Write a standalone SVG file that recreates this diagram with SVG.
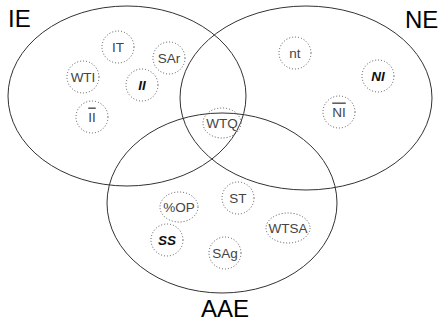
<svg xmlns="http://www.w3.org/2000/svg" width="441" height="324" viewBox="0 0 441 324">
<style>
.big{fill:none;stroke:#333;stroke-width:1}
.dot{fill:none;stroke:#555;stroke-width:1;stroke-dasharray:1 2}
.lbl{font-family:"Liberation Sans",Arial,sans-serif;font-size:24px;fill:#000}
.t{font-family:"Liberation Sans",Arial,sans-serif;font-size:13.5px;fill:#444;text-anchor:middle;dominant-baseline:central}
.b{font-weight:bold;font-style:italic;fill:#111}
.ov{text-decoration:overline}
</style>
<rect width="441" height="324" fill="#fff"/>
<g id="sets">
<g id="IE"><ellipse class="big" cx="127" cy="96" rx="119" ry="90"/><text class="lbl" x="8" y="27">IE</text></g>
<g id="NE"><ellipse class="big" cx="306" cy="98" rx="126" ry="92"/><text class="lbl" x="405" y="28">NE</text></g>
<g id="AAE"><ellipse class="big" cx="222" cy="203" rx="115" ry="90"/><text class="lbl" x="225" y="317" text-anchor="middle">AAE</text></g>
</g>
<g id="connectors"></g>
<g id="n-IT"><circle class="dot" cx="118" cy="47" r="16"/><text class="t" x="118" y="47">IT</text></g>
<g id="n-SAr"><circle class="dot" cx="169" cy="58" r="16"/><text class="t" x="169" y="58">SAr</text></g>
<g id="n-WTI"><circle class="dot" cx="83" cy="77" r="16"/><text class="t" x="83" y="77">WTI</text></g>
<g id="n-II"><circle class="dot" cx="142" cy="85" r="16"/><text class="t b" x="142" y="85">II</text></g>
<g id="n-notII"><circle class="dot" cx="92" cy="117" r="16"/><text class="t ov" x="92" y="117">II</text></g>
<g id="n-nt"><circle class="dot" cx="295" cy="53" r="16"/><text class="t" x="295" y="53">nt</text></g>
<g id="n-NI"><circle class="dot" cx="378" cy="76" r="16"/><text class="t b" x="378" y="76">NI</text></g>
<g id="n-notNI"><circle class="dot" cx="339" cy="112" r="16"/><text class="t ov" x="339" y="112">NI</text></g>
<g id="n-WTQ"><ellipse class="dot" cx="222" cy="123" rx="19" ry="15"/><text class="t" x="222" y="123">WTQ</text></g>
<g id="n-OP"><ellipse class="dot" cx="179" cy="207" rx="19" ry="15"/><text class="t" x="179" y="207">%OP</text></g>
<g id="n-ST"><circle class="dot" cx="238" cy="198" r="16"/><text class="t" x="238" y="198">ST</text></g>
<g id="n-WTSA"><ellipse class="dot" cx="288" cy="228" rx="22" ry="15"/><text class="t" x="288" y="228">WTSA</text></g>
<g id="n-SS"><circle class="dot" cx="167" cy="240" r="16"/><text class="t b" x="167" y="240">SS</text></g>
<g id="n-SAg"><circle class="dot" cx="225" cy="253" r="16"/><text class="t" x="225" y="253">SAg</text></g>
</svg>
